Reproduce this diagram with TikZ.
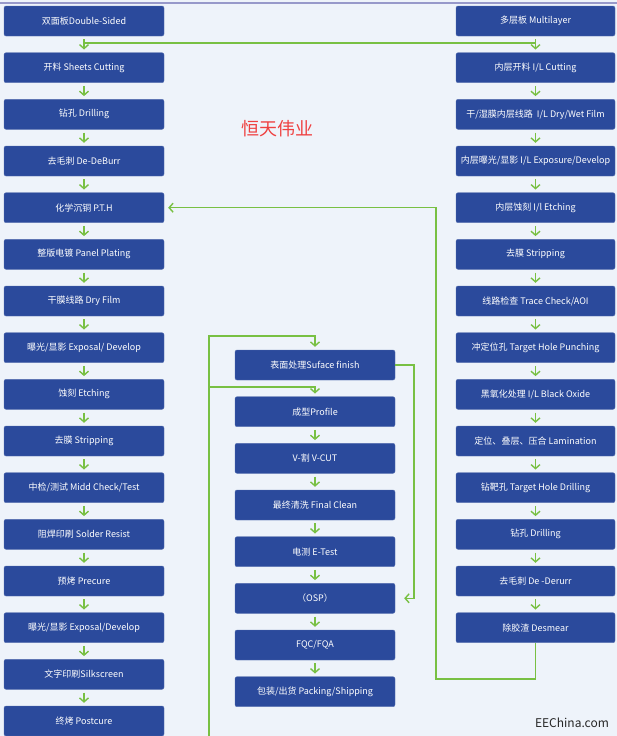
\documentclass[tikz,border=0pt]{standalone}
\usepackage{fontspec}
\setmainfont{Noto Sans CJK SC}
\usetikzlibrary{arrows.meta}
\definecolor{pagebg}{HTML}{EEF3FA}
\definecolor{stepblue}{HTML}{2B4A9C}
\definecolor{flowgreen}{HTML}{78C043}
\definecolor{markred}{HTML}{EE4040}

\begin{document}
\begin{tikzpicture}[x=1pt, y=-1pt,
    stepbox/.style={draw=stepblue!80!white, fill=stepblue, rounded corners=2pt, text=white,
        minimum width=160pt, minimum height=30pt, inner sep=0pt, font=\fontsize{9}{10}\selectfont},
    rightbox/.style={stepbox, minimum width=159pt},
    flow/.style={draw=flowgreen, line width=1.4pt, -{Straight Barb[length=4pt, width=9pt]}},
    link/.style={draw=flowgreen, line width=1.4pt},
    down/.style={flow, shorten <=3pt, shorten >=3pt}]
        % page
        \fill [pagebg] (0, 0) rectangle (617, 736);
        \useasboundingbox (0, 0) rectangle (617, 736);
        \draw [line width=2pt, color=pagebg!70!blue!60!gray] (0, 3) -- (617, 3);

        % double-sided line
        \node [stepbox] (ds) at (84, 21) {双面板Double-Sided};
        \node [stepbox] (shc) at (84, 67.7) {开料 Sheets Cutting};
        \node [stepbox] (drl) at (84, 114.3) {钻孔 Drilling};
        \node [stepbox] (dbr) at (84, 161) {去毛刺 De-DeBurr};
        \node [stepbox] (pth) at (84, 207.7) {化学沉铜 P.T.H};
        \node [stepbox] (pnl) at (84, 254.3) {整版电镀 Panel Plating};
        \node [stepbox] (dfm) at (84, 301) {干膜线路 Dry Film};
        \node [stepbox] (exa) at (84, 347.7) {曝光/显影 Exposal/ Develop};
        \node [stepbox] (etc) at (84, 394.3) {蚀刻 Etching};
        \node [stepbox] (stp) at (84, 441) {去膜 Stripping};
        \node [stepbox] (mck) at (84, 487.7) {中检/测试 Midd Check/Test};
        \node [stepbox] (sr) at (84, 534.3) {阻焊印刷 Solder Resist};
        \node [stepbox] (pre) at (84, 581) {预烤 Precure};
        \node [stepbox] (exb) at (84, 627.7) {曝光/显影 Exposal/Develop};
        \node [stepbox] (slk) at (84, 674.3) {文字印刷Silkscreen};
        \node [stepbox] (pcr) at (84, 721) {终烤 Postcure};

        % multilayer line
        \node [rightbox] (ml) at (535.5, 21) {多层板 Multilayer};
        \node [rightbox] (ilc) at (535.5, 67.7) {内层开料 I/L Cutting};
        \node [rightbox] (ilf) at (535.5, 114.3) {干/湿膜内层线路\ \ I/L Dry/Wet Film};
        \node [rightbox] (ile) at (535.5, 161) {内层曝光/显影 I/L Exposure/Develop};
        \node [rightbox] (ilt) at (535.5, 207.7) {内层蚀刻 I/l Etching};
        \node [rightbox] (ils) at (535.5, 254.3) {去膜 Stripping};
        \node [rightbox] (aoi) at (535.5, 301) {线路检查 Trace Check/AOI};
        \node [rightbox] (thp) at (535.5, 347.7) {冲定位孔 Target Hole Punching};
        \node [rightbox] (box) at (535.5, 394.3) {黑氧化处理 I/L Black Oxide};
        \node [rightbox] (lam) at (535.5, 441) {定位、叠层、压合 Lamination};
        \node [rightbox] (thd) at (535.5, 487.7) {钻靶孔 Target Hole Drilling};
        \node [rightbox] (mdr) at (535.5, 534.3) {钻孔 Drilling};
        \node [rightbox] (mdb) at (535.5, 581) {去毛刺 De -Derurr};
        \node [rightbox] (dsm) at (535.5, 627.7) {除胶渣 Desmear};

        % finishing line
        \node [stepbox] (sf) at (315, 365) {表面处理Suface finish};
        \node [stepbox] (pf) at (315, 411.7) {成型Profile};
        \node [stepbox] (vc) at (315, 458.3) {V-割 V-CUT};
        \node [stepbox] (fcl) at (315, 505) {最终清洗 Final Clean};
        \node [stepbox] (et) at (315, 551.7) {电测 E-Test};
        \node [stepbox] (osp) at (315, 598.3) {（OSP）};
        \node [stepbox] (fqc) at (315, 645) {FQC/FQA};
        \node [stepbox] (pk) at (315, 691.7) {包装/出货 Packing/Shipping};

        \draw [down] (ds) -- (shc);
        \draw [down] (shc) -- (drl);
        \draw [down] (drl) -- (dbr);
        \draw [down] (dbr) -- (pth);
        \draw [down] (pth) -- (pnl);
        \draw [down] (pnl) -- (dfm);
        \draw [down] (dfm) -- (exa);
        \draw [down] (exa) -- (etc);
        \draw [down] (etc) -- (stp);
        \draw [down] (stp) -- (mck);
        \draw [down] (mck) -- (sr);
        \draw [down] (sr) -- (pre);
        \draw [down] (pre) -- (exb);
        \draw [down] (exb) -- (slk);
        \draw [down] (slk) -- (pcr);

        \draw [down] (ml) -- (ilc);
        \draw [down] (ilc) -- (ilf);
        \draw [down] (ilf) -- (ile);
        \draw [down] (ile) -- (ilt);
        \draw [down] (ilt) -- (ils);
        \draw [down] (ils) -- (aoi);
        \draw [down] (aoi) -- (thp);
        \draw [down] (thp) -- (box);
        \draw [down] (box) -- (lam);
        \draw [down] (lam) -- (thd);
        \draw [down] (thd) -- (mdr);
        \draw [down] (mdr) -- (mdb);
        \draw [down] (mdb) -- (dsm);

        \draw [down] (pf) -- (vc);
        \draw [down] (vc) -- (fcl);
        \draw [down] (fcl) -- (et);
        \draw [down] (et) -- (osp);
        \draw [down] (osp) -- (fqc);
        \draw [down] (fqc) -- (pk);

        % joins and returns
        \coordinate (jl) at (84, 43);
        \coordinate (jr) at (535.5, 43);
        \draw [link] (jl) -- (jr);

        \coordinate (back) at (436, 679);
        \draw [flow, shorten >=4pt] (dsm.south) |- (back) |- (pth.east);

        \coordinate (up) at (209, 736);
        \coordinate (top) at (315, 336);
        \draw [flow, shorten >=3pt] (up) |- (top) -- (sf.north);
        \coordinate (br) at (209, 387);
        \coordinate (brr) at (315, 387);
        \draw [flow, shorten >=3pt] (br) -- (brr) -- (pf.north);

        \coordinate (side) at (414, 365);
        \draw [flow, shorten >=9pt] (sf.east) -- (side) |- (osp.east);

        \node [text=markred, font=\fontsize{18}{20}\selectfont] (mark) at (277, 129) {恒天伟业};
        \node [text=black!85, font=\fontsize{12}{14}\selectfont] (site) at (572, 723) {EEChina.com};
    \end{tikzpicture}
\end{document}
